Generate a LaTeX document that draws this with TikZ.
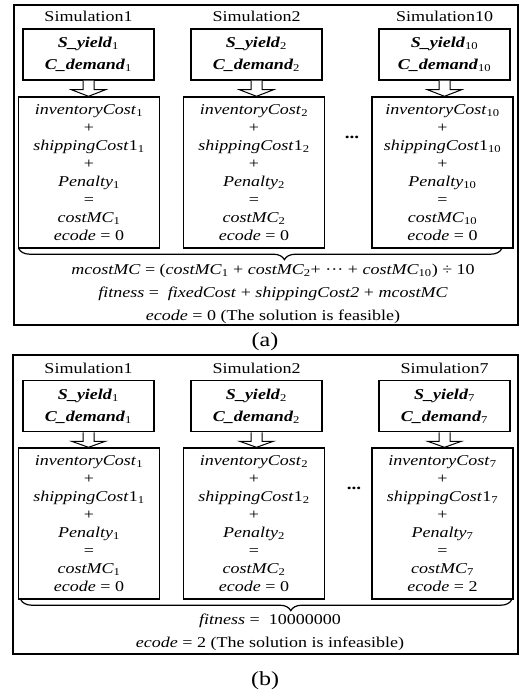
\documentclass[tikz,border=0pt]{standalone}
\usepackage{fontspec}
\setmainfont{Liberation Serif}[FakeStretch=1.2]
\usetikzlibrary{positioning,decorations.pathreplacing}

\newcommand{\sub}[1]{\textsubscript{#1}}
% two input values of one simulation run
\newcommand{\inputs}[1]{\textbf{\textit{S\_yield}}\sub{#1}\\\textbf{\textit{C\_demand}}\sub{#1}}
% cost sum of one simulation run
\newcommand{\costs}[2]{\textit{inventoryCost}\sub{#1}\\+\\\textit{shippingCost}1\sub{#1}\\+\\\textit{Penalty}\sub{#1}\\=\\\textit{costMC}\sub{#1}\\\textit{ecode} = #2}
% hollow arrow from input box down to cost box
\newcommand{\flowarrow}[2]{%
  \draw[arrow line] ([xshift=-5.5pt]#1.south) -- ([xshift=-5.5pt,yshift=-9pt]#1.south)
    -- ([xshift=-17pt,yshift=-9pt]#1.south) -- (#1.south |- #2.north)
    -- ([xshift=17pt,yshift=-9pt]#1.south) -- ([xshift=5.5pt,yshift=-9pt]#1.south)
    -- ([xshift=5.5pt]#1.south);}

\begin{document}
\begin{tikzpicture}[x=1pt,y=-1pt,
    sim label/.style={inner sep=0pt,font=\fontsize{15}{18}\selectfont},
    input box/.style={draw,line width=1.5pt,minimum width=131pt,minimum height=51pt,inner sep=0pt,align=center,font=\fontsize{15}{22}\selectfont},
    cost box/.style={draw,line width=1.4pt,minimum width=141pt,minimum height=151pt,inner sep=0pt,align=center,font=\fontsize{15}{18}\selectfont},
    arrow line/.style={line width=1pt,fill=white},
    sum brace/.style={decorate,line width=1.2pt,decoration={brace,mirror,amplitude=11pt,aspect=0.55}},
    result/.style={inner sep=0pt,align=center,font=\fontsize{15}{23}\selectfont},
    more/.style={inner sep=0pt,font=\fontsize{16}{18}\selectfont\bfseries},
    frame/.style={line width=1.3pt},
    caption/.style={inner sep=0pt,font=\fontsize{20}{22}\selectfont}]
  \useasboundingbox (0,0) rectangle (524,690);

  % (a) feasible solution, 10 runs
  \draw[frame] (14,5) rectangle (518,325);
  \node[input box] (ina1) at (88.5,54.5) {\inputs{1}};
  \node[input box] (ina2) at (256.5,54.5) {\inputs{2}};
  \node[input box] (ina3) at (444.5,54.5) {\inputs{10}};
  \node[sim label] (sima1) at (88.5,16) {Simulation1};
  \node[sim label] (sima2) at (256.5,16) {Simulation2};
  \node[sim label] (sima3) at (444.5,16) {Simulation10};
  \node[cost box] (costa1) at (89,172.5) {\costs{1}{0}};
  \node[cost box] (costa2) at (254,172.5) {\costs{2}{0}};
  \node[cost box] (costa3) at (442.5,172.5) {\costs{10}{0}};
  \node[more] (dotsa) at (352,137) {...};
  \flowarrow{ina1}{costa1}
  \flowarrow{ina2}{costa2}
  \flowarrow{ina3}{costa3}
  \draw[sum brace] ([xshift=1pt]costa1.south west) -- ([xshift=-12pt]costa3.south east);
  \node[result] (resa) at (273,294) {\textit{mcostMC} = (\textit{costMC}\sub{1} + \textit{costMC}\sub{2}+ \textperiodcentered\textperiodcentered\textperiodcentered{} + \textit{costMC}\sub{10}) ÷ 10\\
    \textit{fitness} = ~\textit{fixedCost} + \textit{shippingCost2} + \textit{mcostMC}\\
    \textit{ecode} = 0 (The solution is feasible)};
  \node[caption] (capa) at (265,342) {(a)};

  % (b) infeasible solution, stopped at run 7
  \draw[frame] (13,355) rectangle (518,654);
  \node[input box] (inb1) at (88.5,406) {\inputs{1}};
  \node[input box] (inb2) at (256.5,406) {\inputs{2}};
  \node[input box] (inb3) at (444.5,406) {\inputs{7}};
  \node[sim label] (simb1) at (88.5,368) {Simulation1};
  \node[sim label] (simb2) at (256.5,368) {Simulation2};
  \node[sim label] (simb3) at (444.5,368) {Simulation7};
  \node[cost box] (costb1) at (89,523.5) {\costs{1}{0}};
  \node[cost box] (costb2) at (254,523.5) {\costs{2}{0}};
  \node[cost box] (costb3) at (442.5,523.5) {\costs{7}{2}};
  \node[more] (dotsb) at (354,488) {...};
  \flowarrow{inb1}{costb1}
  \flowarrow{inb2}{costb2}
  \flowarrow{inb3}{costb3}
  \draw[sum brace] ([xshift=3pt]costb1.south west) -- ([xshift=-2pt]costb3.south east);
  \node[result] (resb) at (270,632.5) {\textit{fitness} = ~10000000\\
    \textit{ecode} = 2 (The solution is infeasible)};
  \node[caption] (capb) at (265,681) {(b)};
\end{tikzpicture}
\end{document}
